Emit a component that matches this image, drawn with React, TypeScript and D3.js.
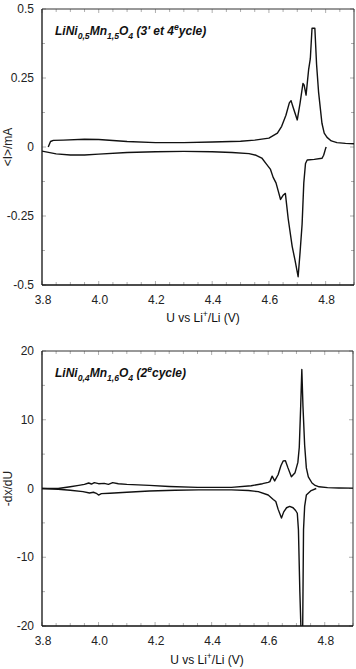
import React from 'react';
import * as d3 from 'd3';

// Top panel: cyclic voltammetry of LiNi0.5Mn1.5O4, <I>/mA vs U
const cvOxU = [3.822, 3.83, 3.84, 3.875, 3.95, 4.0, 4.1, 4.2, 4.3, 4.4, 4.5, 4.55, 4.6, 4.63, 4.645, 4.66, 4.672, 4.678, 4.685, 4.7, 4.71, 4.72, 4.724, 4.731, 4.74, 4.746, 4.752, 4.762, 4.768, 4.775, 4.787, 4.795, 4.805, 4.82, 4.84, 4.87, 4.9];
const cvOxI = [0.0, 0.02, 0.024, 0.025, 0.028, 0.027, 0.02, 0.016, 0.016, 0.018, 0.021, 0.025, 0.032, 0.05, 0.075, 0.115, 0.16, 0.168, 0.145, 0.098, 0.16, 0.23, 0.225, 0.188, 0.28, 0.32, 0.43, 0.43, 0.3, 0.2, 0.086, 0.05, 0.035, 0.022, 0.016, 0.013, 0.012];
const cvRedU = [3.8, 3.85, 3.9, 3.95, 4.0, 4.1, 4.2, 4.3, 4.4, 4.47, 4.53, 4.555, 4.575, 4.59, 4.605, 4.615, 4.625, 4.633, 4.641, 4.65, 4.658, 4.668, 4.682, 4.692, 4.703, 4.71, 4.717, 4.723, 4.729, 4.735, 4.76, 4.787, 4.793, 4.8, 4.802];
const cvRedI = [-0.015, -0.025, -0.029, -0.029, -0.026, -0.02, -0.017, -0.016, -0.017, -0.02, -0.024, -0.03, -0.04, -0.06, -0.08, -0.11, -0.13, -0.16, -0.19, -0.175, -0.168, -0.26, -0.36, -0.41, -0.47, -0.38, -0.28, -0.13, -0.06, -0.047, -0.045, -0.041, -0.03, -0.005, 0.0];

// Bottom panel: -dx/dU of LiNi0.4Mn1.6O4, 2nd cycle
const dxChU = [3.8, 3.857, 3.9, 3.93, 3.95, 3.965, 3.975, 3.985, 4.0, 4.02, 4.035, 4.05, 4.07, 4.1, 4.18, 4.25, 4.35, 4.47, 4.54, 4.58, 4.6, 4.606, 4.614, 4.623, 4.635, 4.645, 4.653, 4.661, 4.67, 4.682, 4.695, 4.705, 4.71, 4.715, 4.719, 4.723, 4.729, 4.735, 4.742, 4.755, 4.764, 4.78, 4.81, 4.85, 4.9];
const dxChV = [0, 0, 0.25, 0.45, 0.6, 0.8, 0.65, 0.85, 0.7, 0.75, 0.6, 0.85, 0.7, 0.6, 0.45, 0.3, 0.17, 0.17, 0.4, 0.7, 0.9, 1.0, 1.8, 1.1, 2.0, 3.3, 4.0, 4.05, 3.0, 1.7, 2.3, 3.8, 6.0, 12, 17.3, 12, 6.3, 3, 1.7, 0.8, 0.5, 0.25, 0.12, 0.07, 0.05];
const dxDisU = [3.8, 3.857, 3.9, 3.945, 3.968, 3.982, 3.992, 4.0, 4.01, 4.04, 4.1, 4.18, 4.27, 4.354, 4.47, 4.53, 4.565, 4.6, 4.618, 4.627, 4.635, 4.647, 4.655, 4.665, 4.676, 4.688, 4.697, 4.703, 4.707, 4.712, 4.716, 4.722, 4.725, 4.729, 4.735, 4.752, 4.77];
const dxDisV = [0, -0.1, -0.25, -0.45, -0.65, -0.55, -0.7, -0.95, -0.75, -0.7, -0.55, -0.36, -0.25, -0.2, -0.2, -0.3, -0.46, -0.95, -1.6, -1.9, -3.0, -4.3, -3.4, -2.8, -2.6, -2.8, -3.2, -3.6, -6, -15, -20.5, -20.5, -6, -2.6, -0.95, -0.3, 0];

const xTicks = [3.8, 4.0, 4.2, 4.4, 4.6, 4.8];
const topYTicks = [0.5, 0.25, 0, -0.25, -0.5];
const botYTicks = [20, 10, 0, -10, -20];

const FONT = '"Liberation Sans", Arial, sans-serif';

type Part = { t: string; k?: 'sub' | 'sup' };

const RichText = ({ x, y, parts, size, weight, style, anchor }: { x: number; y: number; parts: Part[]; size: number; weight?: string; style?: string; anchor?: string }) => {
  let shift = 0;
  return (
    <text x={x} y={y} fontFamily={FONT} fontSize={size} fontWeight={weight} fontStyle={style} textAnchor={anchor} fill="#111">
      {parts.map((p, i) => {
        const target = p.k === 'sub' ? size * 0.3 : p.k === 'sup' ? -size * 0.4 : 0;
        const dy = target - shift;
        shift = target;
        return (
          <tspan key={i} dy={dy} fontSize={p.k ? size * 0.72 : size}>
            {p.t}
          </tspan>
        );
      })}
    </text>
  );
};

type PanelProps = {
  id: string;
  x0: number; x1: number; y0: number; y1: number;
  yDomain: [number, number];
  yTicks: number[];
  yMinorStep: number;
  yFmt: (v: number) => string;
  series: [number[], number[]][];
  title: Part[];
  titleY: number;
  yLabel: string;
  yLabelX: number;
  xLabelY: number;
  xLabelX: number;
};

const Panel = (p: PanelProps) => {
  const x = d3.scaleLinear().domain([3.8, 4.9]).range([p.x0, p.x1]);
  const y = d3.scaleLinear().domain(p.yDomain).range([p.y1, p.y0]);
  const line = d3.line<[number, number]>().x((d) => x(d[0])).y((d) => y(d[1]));
  const xMinor = d3.range(3.8, 4.9001, 0.05);
  const yMinor = d3.range(p.yDomain[0], p.yDomain[1] + 1e-6, p.yMinorStep);
  const tc = '#9a9a9a';
  return (
    <g>
      <defs>
        <clipPath id={p.id}>
          <rect x={p.x0} y={p.y0} width={p.x1 - p.x0} height={p.y1 - p.y0} />
        </clipPath>
      </defs>
      {/* inside ticks on all four sides */}
      {xMinor.map((v, i) => {
        const major = xTicks.some((t) => Math.abs(t - v) < 1e-6);
        const L = major ? 4 : 3;
        return (
          <g key={'xm' + i} stroke={tc} strokeWidth={0.8}>
            <line x1={x(v)} x2={x(v)} y1={p.y1} y2={p.y1 - L} />
            <line x1={x(v)} x2={x(v)} y1={p.y0} y2={p.y0 + L} />
          </g>
        );
      })}
      {yMinor.map((v, i) => {
        const major = p.yTicks.some((t) => Math.abs(t - v) < 1e-6);
        const L = major ? 4 : 3;
        return (
          <g key={'ym' + i} stroke={tc} strokeWidth={0.8}>
            <line x1={p.x0} x2={p.x0 + L} y1={y(v)} y2={y(v)} />
            <line x1={p.x1} x2={p.x1 - L} y1={y(v)} y2={y(v)} />
          </g>
        );
      })}
      {/* frame */}
      <line x1={p.x0} x2={p.x1} y1={p.y0} y2={p.y0} stroke="#333" strokeWidth={1} />
      <line x1={p.x1} x2={p.x1} y1={p.y0} y2={p.y1} stroke="#333" strokeWidth={1} />
      <line x1={p.x0} x2={p.x0} y1={p.y0} y2={p.y1} stroke="#222" strokeWidth={1.4} />
      <line x1={p.x0} x2={p.x1} y1={p.y1} y2={p.y1} stroke="#111" strokeWidth={1.6} />
      {/* curves */}
      <g clipPath={`url(#${p.id})`}>
        {p.series.map(([us, vs], i) => (
          <path key={i} d={line(us.map((u, j) => [u, vs[j]] as [number, number])) || ''} fill="none" stroke="#111" strokeWidth={1.4} strokeLinejoin="round" />
        ))}
      </g>
      {/* tick labels */}
      {xTicks.map((t) => (
        <text key={'xl' + t} x={x(t) + 1} y={p.y1 + 19} textAnchor="middle" fontFamily={FONT} fontSize={12} fill="#222">
          {d3.format('.1f')(t)}
        </text>
      ))}
      {p.yTicks.map((t) => (
        <text key={'yl' + t} x={p.x0 - 8} y={y(t) + 4} textAnchor="end" fontFamily={FONT} fontSize={12} fill="#222">
          {p.yFmt(t)}
        </text>
      ))}
      <text transform={`translate(${p.yLabelX},${(p.y0 + p.y1) / 2}) rotate(-90)`} textAnchor="middle" fontFamily={FONT} fontSize={12} fill="#222">
        {p.yLabel}
      </text>
      <RichText x={p.xLabelX} y={p.xLabelY} size={12} anchor="middle" parts={[{ t: 'U vs Li' }, { t: '+', k: 'sup' }, { t: '/Li (V)' }]} />
      <RichText x={p.x0 + 13} y={p.titleY} size={12} weight="bold" style="italic" parts={p.title} />
    </g>
  );
};

const App = () => {
  return (
    <svg width={356} height={669} style={{ position: 'absolute', left: 0, top: 0, background: '#fff' }}>
      <rect width={356} height={669} fill="#fff" />
      <Panel
        id="clipTop"
        x0={42} x1={354} y0={9} y1={285}
        yDomain={[-0.5, 0.5]}
        yTicks={topYTicks}
        yMinorStep={0.125}
        yFmt={(v) => (v === 0 ? '0' : String(v))}
        series={[[cvOxU, cvOxI], [cvRedU, cvRedI]]}
        title={[{ t: 'LiNi' }, { t: '0,5', k: 'sub' }, { t: 'Mn' }, { t: '1,5', k: 'sub' }, { t: 'O' }, { t: '4', k: 'sub' }, { t: " (3' et 4" }, { t: 'e', k: 'sup' }, { t: 'ycle)' }]}
        titleY={35}
        yLabel="<I>/mA"
        yLabelX={12}
        xLabelY={322}
        xLabelX={203}
      />
      <Panel
        id="clipBot"
        x0={42} x1={353} y0={351} y1={626}
        yDomain={[-20, 20]}
        yTicks={botYTicks}
        yMinorStep={5}
        yFmt={(v) => String(v)}
        series={[[dxChU, dxChV], [dxDisU, dxDisV]]}
        title={[{ t: 'LiNi' }, { t: '0,4', k: 'sub' }, { t: 'Mn' }, { t: '1,6', k: 'sub' }, { t: 'O' }, { t: '4', k: 'sub' }, { t: ' (2' }, { t: 'e', k: 'sup' }, { t: 'cycle)' }]}
        titleY={377}
        yLabel="-dx/dU"
        yLabelX={12}
        xLabelY={664}
        xLabelX={207}
      />
    </svg>
  );
};

export default App;
